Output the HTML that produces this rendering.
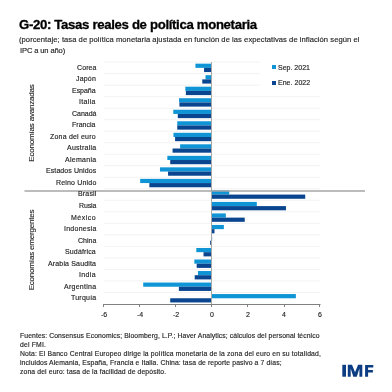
<!DOCTYPE html>
<html><head><meta charset="utf-8"><style>
html,body{margin:0;padding:0;background:#fff;}
body{width:392px;height:392px;position:relative;overflow:hidden;font-family:"Liberation Sans",sans-serif;color:#1f1f1f;-webkit-text-stroke:0.15px #1f1f1f;}
.a{position:absolute;white-space:nowrap;will-change:transform;}
.yl{position:absolute;right:296px;font-size:7px;line-height:7px;white-space:nowrap;will-change:transform;}
.xl{position:absolute;width:20px;text-align:center;font-size:7px;line-height:7px;will-change:transform;}
.sq{position:absolute;width:4.2px;height:4.2px;}
.grp{position:absolute;font-weight:normal;font-size:8px;letter-spacing:0px;transform:rotate(-90deg);transform-origin:center center;white-space:nowrap;text-align:center;width:120px;height:10px;line-height:10px;will-change:transform;}
svg{position:absolute;left:0;top:0;}
</style></head><body>
<svg width="392" height="392" viewBox="0 0 392 392">
<line x1="104" y1="62.10" x2="320" y2="62.10" stroke="#ededed" stroke-width="0.75"/>
<line x1="104" y1="73.62" x2="320" y2="73.62" stroke="#ededed" stroke-width="0.75"/>
<line x1="104" y1="85.14" x2="320" y2="85.14" stroke="#ededed" stroke-width="0.75"/>
<line x1="104" y1="96.66" x2="320" y2="96.66" stroke="#ededed" stroke-width="0.75"/>
<line x1="104" y1="108.18" x2="320" y2="108.18" stroke="#ededed" stroke-width="0.75"/>
<line x1="104" y1="119.70" x2="320" y2="119.70" stroke="#ededed" stroke-width="0.75"/>
<line x1="104" y1="131.22" x2="320" y2="131.22" stroke="#ededed" stroke-width="0.75"/>
<line x1="104" y1="142.74" x2="320" y2="142.74" stroke="#ededed" stroke-width="0.75"/>
<line x1="104" y1="154.26" x2="320" y2="154.26" stroke="#ededed" stroke-width="0.75"/>
<line x1="104" y1="165.78" x2="320" y2="165.78" stroke="#ededed" stroke-width="0.75"/>
<line x1="104" y1="177.30" x2="320" y2="177.30" stroke="#ededed" stroke-width="0.75"/>
<line x1="104" y1="188.82" x2="320" y2="188.82" stroke="#ededed" stroke-width="0.75"/>
<line x1="104" y1="200.34" x2="320" y2="200.34" stroke="#ededed" stroke-width="0.75"/>
<line x1="104" y1="211.86" x2="320" y2="211.86" stroke="#ededed" stroke-width="0.75"/>
<line x1="104" y1="223.38" x2="320" y2="223.38" stroke="#ededed" stroke-width="0.75"/>
<line x1="104" y1="234.90" x2="320" y2="234.90" stroke="#ededed" stroke-width="0.75"/>
<line x1="104" y1="246.42" x2="320" y2="246.42" stroke="#ededed" stroke-width="0.75"/>
<line x1="104" y1="257.94" x2="320" y2="257.94" stroke="#ededed" stroke-width="0.75"/>
<line x1="104" y1="269.46" x2="320" y2="269.46" stroke="#ededed" stroke-width="0.75"/>
<line x1="104" y1="280.98" x2="320" y2="280.98" stroke="#ededed" stroke-width="0.75"/>
<line x1="104" y1="292.50" x2="320" y2="292.50" stroke="#ededed" stroke-width="0.75"/>
<rect x="195.42" y="63.66" width="16.38" height="4.20" fill="#0f95d5"/>
<rect x="204.06" y="67.86" width="7.74" height="4.20" fill="#0a4690"/>
<rect x="205.50" y="75.18" width="6.30" height="4.20" fill="#0f95d5"/>
<rect x="202.26" y="79.38" width="9.54" height="4.20" fill="#0a4690"/>
<rect x="185.34" y="86.70" width="26.46" height="4.20" fill="#0f95d5"/>
<rect x="185.88" y="90.90" width="25.92" height="4.20" fill="#0a4690"/>
<rect x="179.04" y="98.22" width="32.76" height="4.20" fill="#0f95d5"/>
<rect x="179.40" y="102.42" width="32.40" height="4.20" fill="#0a4690"/>
<rect x="173.28" y="109.74" width="38.52" height="4.20" fill="#0f95d5"/>
<rect x="177.78" y="113.94" width="34.02" height="4.20" fill="#0a4690"/>
<rect x="177.24" y="121.26" width="34.56" height="4.20" fill="#0f95d5"/>
<rect x="177.24" y="125.46" width="34.56" height="4.20" fill="#0a4690"/>
<rect x="173.46" y="132.78" width="38.34" height="4.20" fill="#0f95d5"/>
<rect x="175.08" y="136.98" width="36.72" height="4.20" fill="#0a4690"/>
<rect x="180.12" y="144.30" width="31.68" height="4.20" fill="#0f95d5"/>
<rect x="172.56" y="148.50" width="39.24" height="4.20" fill="#0a4690"/>
<rect x="167.34" y="155.82" width="44.46" height="4.20" fill="#0f95d5"/>
<rect x="170.22" y="160.02" width="41.58" height="4.20" fill="#0a4690"/>
<rect x="159.96" y="167.34" width="51.84" height="4.20" fill="#0f95d5"/>
<rect x="168.06" y="171.54" width="43.74" height="4.20" fill="#0a4690"/>
<rect x="140.16" y="178.86" width="71.64" height="4.20" fill="#0f95d5"/>
<rect x="149.34" y="183.06" width="62.46" height="4.20" fill="#0a4690"/>
<rect x="211.80" y="190.38" width="17.46" height="4.20" fill="#0f95d5"/>
<rect x="211.80" y="194.58" width="93.42" height="4.20" fill="#0a4690"/>
<rect x="211.80" y="201.90" width="45.00" height="4.20" fill="#0f95d5"/>
<rect x="211.80" y="206.10" width="74.16" height="4.20" fill="#0a4690"/>
<rect x="211.80" y="213.42" width="14.04" height="4.20" fill="#0f95d5"/>
<rect x="211.80" y="217.62" width="32.94" height="4.20" fill="#0a4690"/>
<rect x="211.80" y="224.94" width="12.06" height="4.20" fill="#0f95d5"/>
<rect x="211.80" y="229.14" width="2.70" height="4.20" fill="#0a4690"/>
<rect x="211.80" y="236.46" width="0.36" height="4.20" fill="#0f95d5"/>
<rect x="210.18" y="240.66" width="1.62" height="4.20" fill="#0a4690"/>
<rect x="196.32" y="247.98" width="15.48" height="4.20" fill="#0f95d5"/>
<rect x="203.52" y="252.18" width="8.28" height="4.20" fill="#0a4690"/>
<rect x="194.34" y="259.50" width="17.46" height="4.20" fill="#0f95d5"/>
<rect x="196.68" y="263.70" width="15.12" height="4.20" fill="#0a4690"/>
<rect x="197.94" y="271.02" width="13.86" height="4.20" fill="#0f95d5"/>
<rect x="194.70" y="275.22" width="17.10" height="4.20" fill="#0a4690"/>
<rect x="143.22" y="282.54" width="68.58" height="4.20" fill="#0f95d5"/>
<rect x="178.86" y="286.74" width="32.94" height="4.20" fill="#0a4690"/>
<rect x="211.80" y="294.06" width="84.06" height="4.20" fill="#0f95d5"/>
<rect x="170.22" y="298.26" width="41.58" height="4.20" fill="#0a4690"/>
<line x1="211.5" y1="62.1" x2="211.5" y2="304.5" stroke="#a8a8a8" stroke-width="1"/>
<line x1="103" y1="304.5" x2="320.5" y2="304.5" stroke="#808080" stroke-width="1"/>
<line x1="103.5" y1="304.5" x2="103.5" y2="307.0" stroke="#808080" stroke-width="1"/>
<line x1="139.5" y1="304.5" x2="139.5" y2="307.0" stroke="#808080" stroke-width="1"/>
<line x1="175.5" y1="304.5" x2="175.5" y2="307.0" stroke="#808080" stroke-width="1"/>
<line x1="211.5" y1="304.5" x2="211.5" y2="307.0" stroke="#808080" stroke-width="1"/>
<line x1="247.5" y1="304.5" x2="247.5" y2="307.0" stroke="#808080" stroke-width="1"/>
<line x1="284.5" y1="304.5" x2="284.5" y2="307.0" stroke="#808080" stroke-width="1"/>
<line x1="319.5" y1="304.5" x2="319.5" y2="307.0" stroke="#808080" stroke-width="1"/>
<rect x="260" y="56" width="62" height="36" fill="#fff"/>
<line x1="24.5" y1="191" x2="365" y2="191" stroke="#a6a6a6" stroke-width="1.6"/>
<rect x="342.3" y="364.8" width="3.7" height="11.9" fill="#0c3d82"/>
<polygon points="347.8,376.8 347.8,364.8 352.0,364.8 355.05,372.2 358.1,364.8 362.3,364.8 362.3,376.8 359.4,376.8 359.4,368.5 356.8,376.8 353.3,376.8 350.7,368.5 350.7,376.8" fill="#0c3d82"/>
<polygon points="365.1,364.9 373.3,364.9 373.3,367.4 368.1,367.4 368.1,369.9 372.9,369.9 372.9,372.4 368.1,372.4 368.1,376.7 365.1,376.7" fill="#0c3d82"/>
</svg>
<div class="a" id="title" style="left:19.3px;top:18px;font-size:13.2px;line-height:13.2px;letter-spacing:-0.334px;font-weight:bold;color:#000;-webkit-text-stroke:0.3px #000;">G-20: Tasas reales de política monetaria</div>
<div class="a" id="sub1" style="left:18.64px;top:36px;font-size:7.6px;line-height:7.6px;letter-spacing:0.052px;">(porcentaje; tasa de política monetaria ajustada en función de las expectativas de inflación según el</div>
<div class="a" id="sub2" style="left:19.5px;top:47px;font-size:7.6px;line-height:7.6px;letter-spacing:-0.137px;">IPC a un año)</div>
<div class="a" id="leg1" style="left:278.22px;top:64px;font-size:7px;line-height:7px;letter-spacing:0.003px;">Sep. 2021</div>
<div class="a" id="leg2" style="left:278.16px;top:79px;font-size:7px;line-height:7px;letter-spacing:0.025px;">Ene. 2022</div>
<div class="a" id="foot1" style="left:20px;top:333px;font-size:6.8px;line-height:6.8px;letter-spacing:0.099px;">Fuentes: Consensus Economics; Bloomberg, L.P.; Haver Analytics; cálculos del personal técnico</div>
<div class="a" id="foot2" style="left:20px;top:342px;font-size:6.8px;line-height:6.8px;letter-spacing:0.197px;">del FMI.</div>
<div class="a" id="foot3" style="left:20px;top:351px;font-size:6.8px;line-height:6.8px;letter-spacing:0.160px;">Nota: El Banco Central Europeo dirige la política monetaria de la zona del euro en su totalidad,</div>
<div class="a" id="foot4" style="left:20px;top:360px;font-size:6.8px;line-height:6.8px;letter-spacing:0.114px;">incluidos Alemania, España, Francia e Italia. China: tasa de reporte pasivo a 7 días;</div>
<div class="a" id="foot5" style="left:20px;top:369px;font-size:6.8px;line-height:6.8px;letter-spacing:0.127px;">zona del euro: tasa de la facilidad de depósito.</div>
<div class="yl" style="top:64px;letter-spacing:0.092px;margin-right:-0.092px">Corea</div>
<div class="yl" style="top:75px;letter-spacing:0.183px;margin-right:-0.183px">Japón</div>
<div class="yl" style="top:87px;letter-spacing:-0.041px;margin-right:0.041px">España</div>
<div class="yl" style="top:98px;letter-spacing:0.343px;margin-right:-0.343px">Italia</div>
<div class="yl" style="top:110px;letter-spacing:-0.020px;margin-right:0.020px">Canadá</div>
<div class="yl" style="top:121px;letter-spacing:0.027px;margin-right:-0.027px">Francia</div>
<div class="yl" style="top:133px;letter-spacing:0.199px;margin-right:-0.199px">Zona del euro</div>
<div class="yl" style="top:144px;letter-spacing:0.250px;margin-right:-0.250px">Australia</div>
<div class="yl" style="top:156px;letter-spacing:0.284px;margin-right:-0.284px">Alemania</div>
<div class="yl" style="top:167px;letter-spacing:0.089px;margin-right:-0.089px">Estados Unidos</div>
<div class="yl" style="top:179px;letter-spacing:0.176px;margin-right:-0.176px">Reino Unido</div>
<div class="yl" style="top:190px;letter-spacing:0.168px;margin-right:-0.168px">Brasil</div>
<div class="yl" style="top:202px;letter-spacing:-0.120px;margin-right:0.120px">Rusia</div>
<div class="yl" style="top:214px;letter-spacing:0.472px;margin-right:-0.472px">México</div>
<div class="yl" style="top:225px;letter-spacing:0.265px;margin-right:-0.265px">Indonesia</div>
<div class="yl" style="top:237px;letter-spacing:0.024px;margin-right:-0.024px">China</div>
<div class="yl" style="top:248px;letter-spacing:0.146px;margin-right:-0.146px">Sudáfrica</div>
<div class="yl" style="top:260px;letter-spacing:0.156px;margin-right:-0.156px">Arabia Saudita</div>
<div class="yl" style="top:271px;letter-spacing:0.355px;margin-right:-0.355px">India</div>
<div class="yl" style="top:283px;letter-spacing:0.266px;margin-right:-0.266px">Argentina</div>
<div class="yl" style="top:294px;letter-spacing:0.227px;margin-right:-0.227px">Turquía</div>
<div class="xl" style="left:93.80px;top:311px">-6</div>
<div class="xl" style="left:129.80px;top:311px">-4</div>
<div class="xl" style="left:165.80px;top:311px">-2</div>
<div class="xl" style="left:201.80px;top:311px">0</div>
<div class="xl" style="left:237.80px;top:311px">2</div>
<div class="xl" style="left:273.80px;top:311px">4</div>
<div class="xl" style="left:309.80px;top:311px">6</div>
<div class="sq" style="left:272px;top:65.2px;background:#0f95d5"></div>
<div class="sq" style="left:272px;top:80.7px;background:#0a4690"></div>
<div class="grp" style="left:-28px;top:118px;letter-spacing:-0.19px">Economías avanzadas</div>
<div class="grp" style="left:-28px;top:245.4px;letter-spacing:-0.19px">Economías emergentes</div>
</body></html>
